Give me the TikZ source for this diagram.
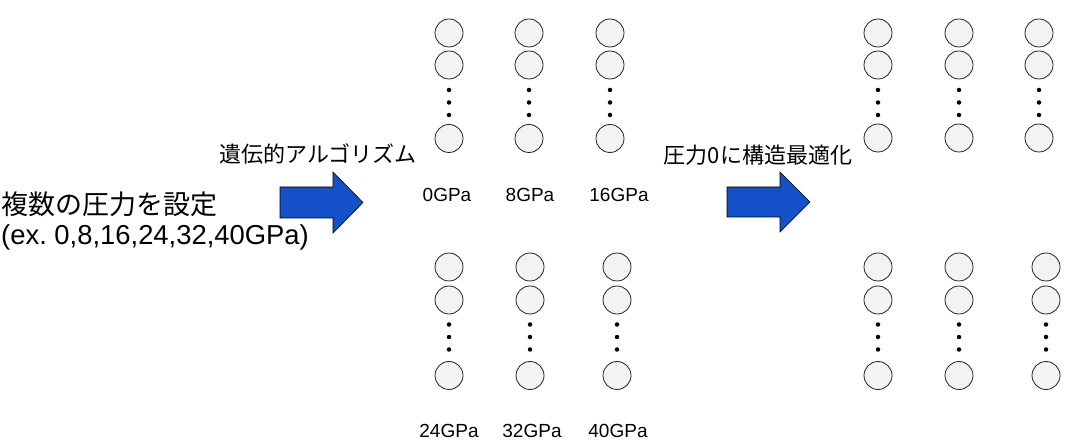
\documentclass[tikz,border=0pt]{standalone}
\usepackage{fontspec}
\setmainfont{Liberation Sans}
\newfontfamily\jpfont{Noto Sans CJK JP}
\definecolor{arrowblue}{HTML}{1450C8}
\definecolor{ballfill}{HTML}{F3F3F3}
\definecolor{ballline}{HTML}{222222}
\frenchspacing
\begin{document}
\begin{tikzpicture}[x=1pt,y=-1pt,
  ball/.style={circle, draw=ballline, fill=ballfill, line width=0.8pt, minimum size=28pt, inner sep=0pt},
  dotmark/.style={circle, fill=black, minimum size=4.5pt, inner sep=0pt},
  bigarrow/.style={fill=arrowblue, draw=black, line width=0.6pt, line join=miter},
  lbl/.style={font=\fontsize{19}{22}\selectfont, inner sep=0pt},
  jpmid/.style={font=\jpfont\fontsize{22}{26}\selectfont, inner sep=0pt},
  jpbig/.style={font=\jpfont\fontsize{27}{32}\selectfont, inner sep=0pt},
  latbig/.style={font=\fontsize{27.4}{32}\selectfont, inner sep=0pt}]
\useasboundingbox (0,0) rectangle (1079,443);
\fill[white] (0,0) rectangle (1079,443);

% columns of balls
\foreach \n/\x/\ya/\yb/\yc/\yd/\ye/\yf in {
  tla/449/33/65/90/102.5/115/138.5,
  tlb/529/33/65/90/102.5/115/138.5,
  tlc/610/33/65/90/102.5/115/138.5,
  bla/449/267/300/324.5/337/349.5/375.5,
  blb/530/267/300/324.5/337/349.5/375.5,
  blc/617/267/300/324.5/337/349.5/375.5,
  tra/878/33/65/90/102.5/115/138,
  trb/959/33/65/90/102.5/115/138,
  trc/1039/33/65/90/102.5/115/138,
  bra/878/267/300/324.5/337/349.5/375.5,
  brb/959/267/300/324.5/337/349.5/375.5,
  brc/1046/267/300/324.5/337/349.5/375.5}{
  \node[ball] (\n-1) at (\x,\ya) {};
  \node[ball] (\n-2) at (\x,\yb) {};
  \node[dotmark] (\n-d1) at (\x,\yc) {};
  \node[dotmark] (\n-d2) at (\x,\yd) {};
  \node[dotmark] (\n-d3) at (\x,\ye) {};
  \node[ball] (\n-3) at (\x,\yf) {};
}

% pressure labels
\node[lbl] (p0) at (447,195) {0GPa};
\node[lbl] (p8) at (530,195) {8GPa};
\node[lbl] (p16) at (619,195) {16GPa};
\node[lbl] (p24) at (449,431) {24GPa};
\node[lbl] (p32) at (532,431) {32GPa};
\node[lbl] (p40) at (618,431) {40GPa};

% texts
\node[jpmid] (ga) at (318,154) {遺伝的アルゴリズム};
\node[jpmid] (opt) at (758,155) {圧力0に構造最適化};
\node[jpbig, anchor=west] (set) at (1,204) {複数の圧力を設定};
\node[latbig, anchor=west] (ex) at (1,237) {(ex. 0,8,16,24,32,40GPa)};

% block arrows
\filldraw[bigarrow] (280,187) -- (333,187) -- (333,172) -- (363,202.5) -- (333,233) -- (333,218) -- (280,218) -- cycle;
\filldraw[bigarrow] (727,187) -- (780,187) -- (780,172) -- (810,202) -- (780,232) -- (780,217) -- (727,217) -- cycle;
\end{tikzpicture}
\end{document}
